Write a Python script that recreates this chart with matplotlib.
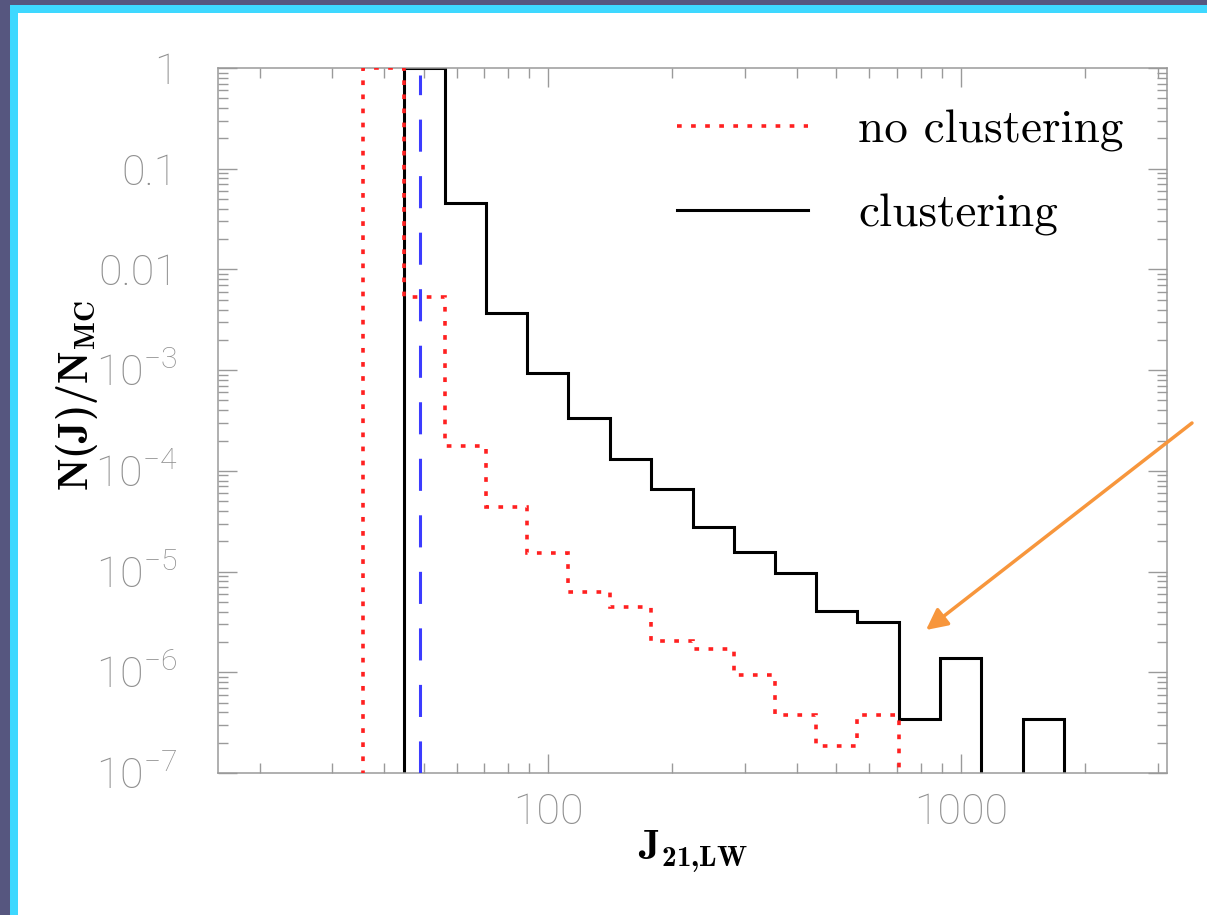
import numpy as np
import matplotlib
matplotlib.use("Agg")
import matplotlib.pyplot as plt
from matplotlib.patches import Rectangle
from matplotlib.ticker import LogLocator, FixedLocator, FixedFormatter, NullFormatter

plt.rcParams['mathtext.fontset'] = 'custom'
plt.rcParams['mathtext.rm'] = 'Roboto:light'
plt.rcParams['mathtext.it'] = 'Roboto:light'
plt.rcParams['mathtext.bf'] = 'cmb10'

# histogram bin edges (J_21,LW)
edges_noclust = [35.5, 44.7, 56.2, 70.8, 89.1, 112, 141, 178, 224, 282, 355, 447, 562, 708]
edges_clust = [44.7, 56.2, 70.8, 89.1, 112, 141, 178, 224, 282, 355, 447, 562, 708,
               891, 1122, 1413, 1778]

# N(J)/N_MC per bin
frac_noclust = [1.0, 5.3e-3, 1.76e-4, 4.4e-5, 1.53e-5, 6.3e-6, 4.45e-6, 2.04e-6,
                1.70e-6, 9.4e-7, 3.76e-7, 1.85e-7, 3.76e-7]
frac_clust = [1.0, 0.0457, 3.69e-3, 9.36e-4, 3.35e-4, 1.31e-4, 6.6e-5, 2.77e-5,
              1.56e-5, 9.67e-6, 4.06e-6, 3.15e-6, 3.43e-7, 1.39e-6, 0.0, 3.43e-7]

j_crit = 49.0

ytick_vals = [1, 0.1, 0.01, 1e-3, 1e-4, 1e-5, 1e-6, 1e-7]
ytick_labels = ['1', '0.1', '0.01', r'$10^{-3}$', r'$10^{-4}$', r'$10^{-5}$',
                r'$10^{-6}$', r'$10^{-7}$']
xtick_vals = [100, 1000]
xtick_labels = ['100', '1000']

floor = 1e-10

fig = plt.figure(figsize=(12.07, 9.15), dpi=100)
fig.patch.set_facecolor('#56567f')
fig.patches.append(Rectangle((10 / 1207, 0), 1, 1 - 5 / 915, transform=fig.transFigure,
                             facecolor='#3ed8ff', edgecolor='none', zorder=-5))
fig.patches.append(Rectangle((18 / 1207, 0), 1, 1 - 13 / 915, transform=fig.transFigure,
                             facecolor='white', edgecolor='none', zorder=-4))

ax = fig.add_axes([218 / 1207, 1 - 773 / 915, 949 / 1207, 705 / 915])
ax.set_facecolor('none')
ax.set_xscale('log')
ax.set_yscale('log')

nc = np.where(np.array(frac_noclust) > 0, frac_noclust, floor)
cl = np.where(np.array(frac_clust) > 0, frac_clust, floor)

ax.stairs(nc, edges_noclust, baseline=floor, color='#ff2020', lw=2.6,
          linestyle=(0, (1.3, 2.6)), label='no clustering', zorder=3)
ax.stairs(cl, edges_clust, baseline=floor, color='black', lw=2.2,
          label='clustering', zorder=2)
ax.axvline(j_crit, ymin=0, ymax=0.99, color='#3c3cff', lw=2.2,
           linestyle=(0, (10.5, 8)), zorder=4)

ax.set_xlim(10 ** 1.2, 10 ** 3.5)
ax.set_ylim(1e-7, 1)

gray = '#9a9a9a'
for s in ax.spines.values():
    s.set_color(gray)
    s.set_linewidth(1.1)

ax.yaxis.set_major_locator(FixedLocator(ytick_vals))
ax.yaxis.set_major_formatter(FixedFormatter(ytick_labels))
ax.yaxis.set_minor_locator(LogLocator(base=10, subs=np.arange(2, 10), numticks=20))
ax.yaxis.set_minor_formatter(NullFormatter())
ax.xaxis.set_major_locator(FixedLocator(xtick_vals))
ax.xaxis.set_major_formatter(FixedFormatter(xtick_labels))
ax.xaxis.set_minor_locator(LogLocator(base=10, subs=np.arange(2, 10), numticks=20))
ax.xaxis.set_minor_formatter(NullFormatter())

ax.tick_params(which='both', direction='in', top=True, right=True, color=gray, width=1)
ax.tick_params(which='major', length=14)
ax.tick_params(which='minor', length=7)
ax.tick_params(axis='y', which='major', pad=29, labelsize=31, labelcolor='#8f8f8f')
ax.tick_params(axis='x', which='major', pad=14, labelsize=31, labelcolor='#8f8f8f')
for t in ax.get_xticklabels() + ax.get_yticklabels():
    t.set_fontfamily('Roboto')
    t.set_fontweight('light')

ax.set_ylabel(r'$\mathbf{N(J)/N_{MC}}$', fontsize=30)
ax.yaxis.set_label_coords(-0.124, 0.536)
ax.set_xlabel(r'$\mathbf{J_{21{,}LW}}$', fontsize=30)
ax.xaxis.set_label_coords(0.50, -0.078)

leg = ax.legend(loc='upper right', bbox_to_anchor=(0.999, 1.002), frameon=False,
                prop={'family': 'cmr10', 'size': 34}, handlelength=2.77,
                handletextpad=1.06, labelspacing=0.88)

ax.annotate('', xy=(926 / 1207, 1 - 630 / 915), xycoords='figure fraction',
            xytext=(1192 / 1207, 1 - 423 / 915), textcoords='figure fraction',
            arrowprops=dict(arrowstyle='-|>', color='#f7963c', lw=2.5,
                            mutation_scale=32, shrinkA=0, shrinkB=0))

fig.savefig('out.png', dpi=100, facecolor=fig.get_facecolor())
